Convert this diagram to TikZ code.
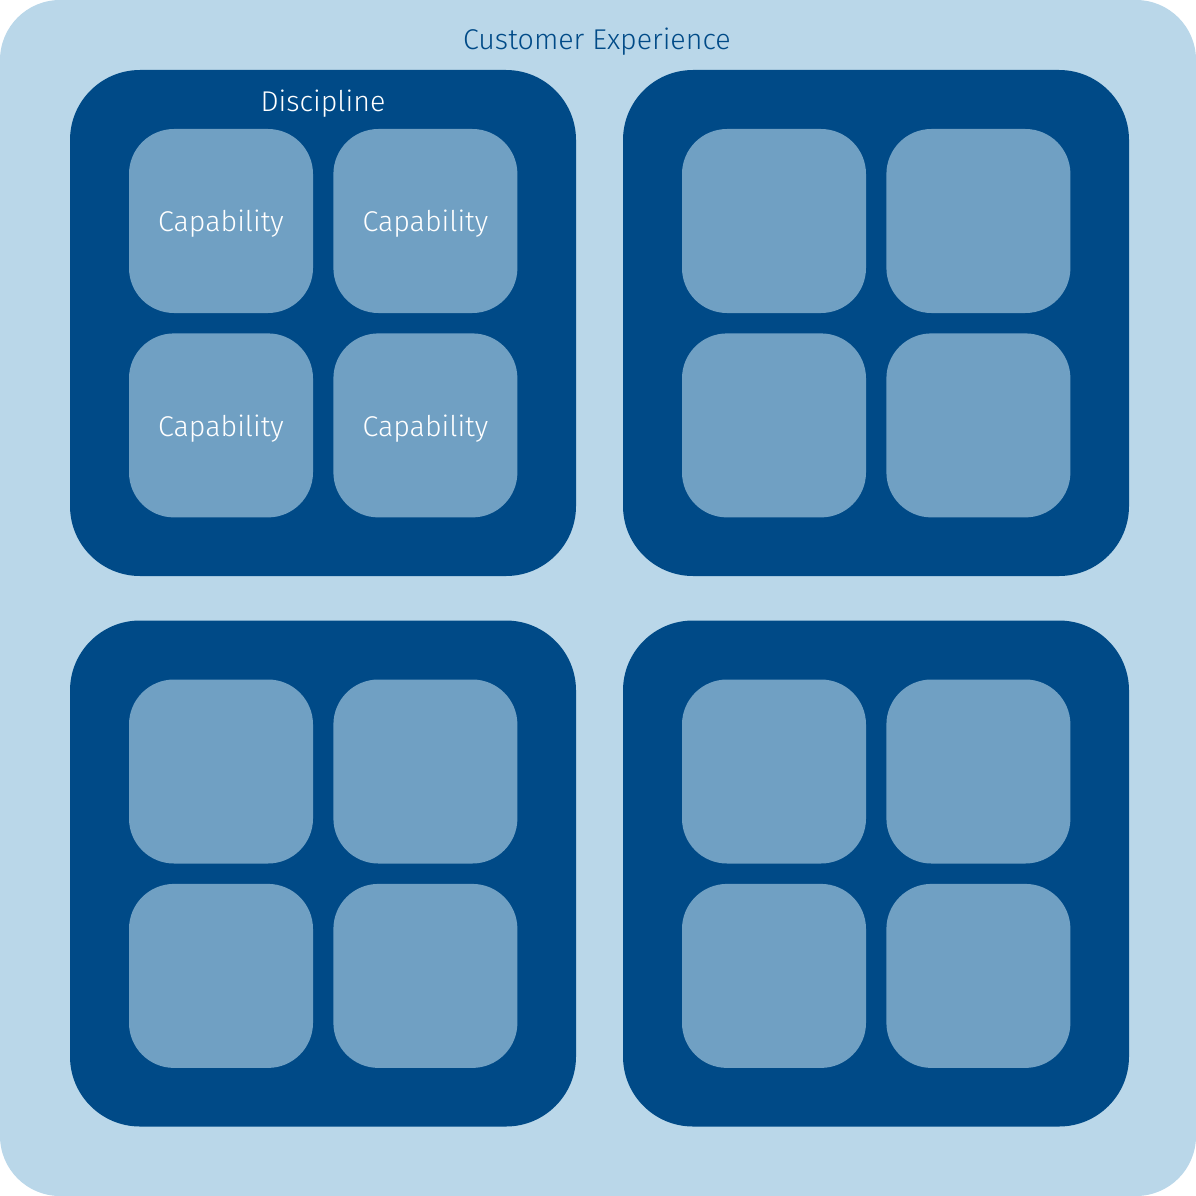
\documentclass[tikz,border=0pt]{standalone}
\usepackage{fontspec}
\setmainfont{Fira Sans Light}
\usetikzlibrary{positioning}
\definecolor{cxlight}{HTML}{BAD7E9}
\definecolor{cxdark}{HTML}{004A87}
\definecolor{cxcap}{HTML}{70A0C3}
\tikzset{
    experience/.style={
           rectangle,
           rounded corners=60pt,
           fill=cxlight,
           minimum width=1196pt, minimum height=1196pt,
           inner sep=0pt,
           },
}
\tikzset{
    discipline/.style={
           rectangle,
           rounded corners=70pt,
           fill=cxdark,
           minimum width=506pt, minimum height=506pt,
           inner sep=0pt,
           },
}
\tikzset{
    capability/.style={
           rectangle,
           rounded corners=45pt,
           fill=cxcap,
           text=white,
           font=\fontsize{28.6}{32}\selectfont,
           text depth=0pt,
           minimum width=184pt, minimum height=184pt,
           inner sep=0pt,
           },
}
\begin{document}
\begin{tikzpicture}[x=1pt,y=-1pt]
\node[experience](cx) at (598,598){};
\node[text=cxdark,font=\fontsize{28.6}{32}\selectfont](cxtitle) at (597,42){Customer Experience};
\node[discipline](d1) at (323,323){};
\node[discipline](d2) at (876,323){};
\node[discipline](d3) at (323,873.5){};
\node[discipline](d4) at (876,873.5){};
\node[text=white,font=\fontsize{28.6}{32}\selectfont](d1title) at (323,104){Discipline};
\node[capability](d1c1) at ([xshift=-102pt,yshift=102pt]d1.center){Capability};
\node[capability,right = 20pt of d1c1](d1c2){Capability};
\node[capability,below = 20pt of d1c1](d1c3){Capability};
\node[capability,right = 20pt of d1c3](d1c4){Capability};
\foreach \d in {d2,d3,d4}{
  \node[capability](\d c1) at ([xshift=-102pt,yshift=102pt]\d.center){};
  \node[capability,right = 20pt of \d c1](\d c2){};
  \node[capability,below = 20pt of \d c1](\d c3){};
  \node[capability,right = 20pt of \d c3](\d c4){};
}
\end{tikzpicture}
\end{document}
